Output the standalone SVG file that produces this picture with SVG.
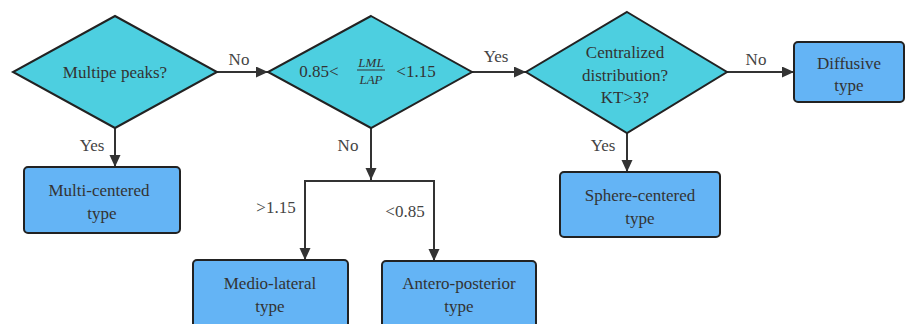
<svg xmlns="http://www.w3.org/2000/svg" width="906" height="324" viewBox="0 0 906 324">
<style>
.dia{fill:#4dcfe0;stroke:#222;stroke-width:2;stroke-linejoin:miter}
.box{fill:#64b4f5;stroke:#222;stroke-width:2}
text{font-family:'Liberation Serif','DejaVu Serif',serif}
.t{font-size:17px;fill:#333;text-anchor:middle}
.lbl{font-size:17px;fill:#444;text-anchor:middle}
.fr{font-size:13px;font-style:italic;fill:#333;text-anchor:middle}
.c{fill:none;stroke:#333;stroke-width:2}
</style>
<defs>
<marker id="ah" markerUnits="userSpaceOnUse" markerWidth="12" markerHeight="12" refX="12" refY="5.5" orient="auto">
<path d="M0,0 L12,5.5 L0,11 z" fill="#333"/>
</marker>
</defs>
<g id="connectors">
<path class="c" d="M217,72 H268" marker-end="url(#ah)"/>
<path class="c" d="M115,128 V167" marker-end="url(#ah)"/>
<path class="c" d="M472,72 H526" marker-end="url(#ah)"/>
<path class="c" d="M727,72 H794" marker-end="url(#ah)"/>
<path class="c" d="M627,133 V172" marker-end="url(#ah)"/>
<path class="c" d="M371,128 V180" marker-end="url(#ah)"/>
<path class="c" d="M305,181 H434"/>
<path class="c" d="M305,180 V260" marker-end="url(#ah)"/>
<path class="c" d="M434,180 V261" marker-end="url(#ah)"/>
<text class="lbl" x="239" y="65">No</text>
<text class="lbl" x="92" y="151">Yes</text>
<text class="lbl" x="496" y="62">Yes</text>
<text class="lbl" x="348" y="151">No</text>
<text class="lbl" x="756" y="65">No</text>
<text class="lbl" x="603" y="151">Yes</text>
<text class="lbl" x="276" y="213">&gt;1.15</text>
<text class="lbl" x="405" y="217">&lt;0.85</text>
</g>
<g id="d1">
<polygon class="dia" points="115,16 217,72 115,128 13,72"/>
<text class="t" x="115" y="78">Multipe peaks?</text>
</g>
<g id="d2">
<polygon class="dia" points="371,16 472,72 371,128 268,72"/>
<text class="t" x="319" y="77">0.85&lt;</text>
<text class="fr" x="371" y="67">LML</text>
<line x1="357" y1="70" x2="385" y2="70" stroke="#333" stroke-width="1"/>
<text class="fr" x="371" y="84">LAP</text>
<text class="t" x="416" y="77">&lt;1.15</text>
</g>
<g id="d3">
<polygon class="dia" points="627,12 727,72 627,133 526,72"/>
<text class="t" x="625" y="58">Centralized</text>
<text class="t" x="625" y="81">distribution?</text>
<text class="t" x="625" y="103">KT&gt;3?</text>
</g>
<g id="diffusive">
<rect class="box" x="794" y="42" width="110" height="60" rx="4"/>
<text class="t" x="849" y="69">Diffusive</text>
<text class="t" x="849" y="91">type</text>
</g>
<g id="multi">
<rect class="box" x="24" y="167" width="156" height="66" rx="4"/>
<text class="t" x="99" y="196">Multi-centered</text>
<text class="t" x="102" y="219">type</text>
</g>
<g id="sphere">
<rect class="box" x="560" y="172" width="160" height="65" rx="4"/>
<text class="t" x="640" y="201">Sphere-centered</text>
<text class="t" x="640" y="224">type</text>
</g>
<g id="medio">
<rect class="box" x="193" y="260" width="155" height="75" rx="4"/>
<text class="t" x="270" y="289">Medio-lateral</text>
<text class="t" x="270" y="312">type</text>
</g>
<g id="antero">
<rect class="box" x="382" y="261" width="154" height="75" rx="4"/>
<text class="t" x="459" y="289">Antero-posterior</text>
<text class="t" x="459" y="312">type</text>
</g>
</svg>
